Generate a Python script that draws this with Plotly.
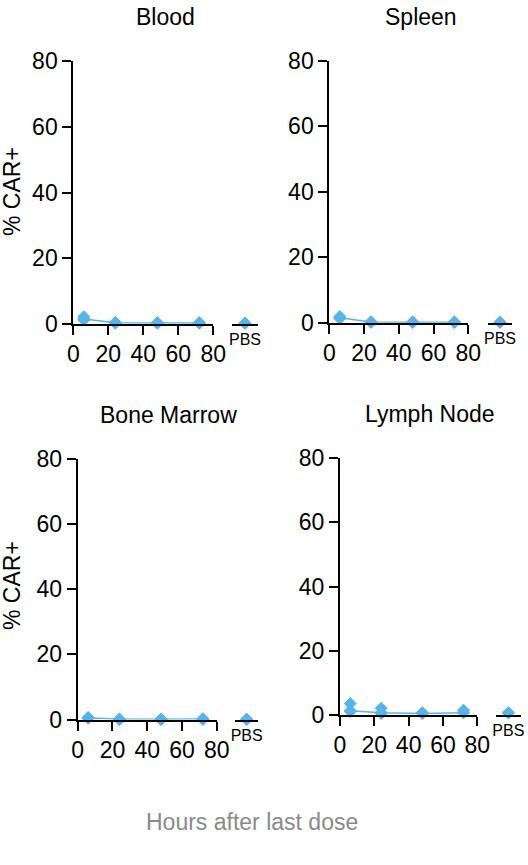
import plotly.graph_objects as go

W, H = 528, 865

# ---------------- data ----------------
times = [6, 24, 48, 72]
panel_names = ["Blood", "Spleen", "Bone Marrow", "Lymph Node"]
x_ticks = [0, 20, 40, 60, 80]
y_ticks = [0, 20, 40, 60, 80]
pbs_label = "PBS"

blood_reps = [[2.1, 1.4, 1.1], [0.4, 0.3, 0.2], [0.3, 0.2, 0.2], [0.3, 0.2, 0.2]]
blood_line = [1.4, 0.3, 0.2, 0.2]
blood_pbs = [0.1, 0.1]

spleen_reps = [[1.9, 1.3, 1.5], [0.2, 0.1, 0.2], [0.1, 0.1, 0.2], [0.1, 0.1, 0.2]]
spleen_line = [1.5, 0.2, 0.1, 0.1]
spleen_pbs = [0.1, 0.1]

marrow_reps = [[0.6, 0.4, 0.5], [0.1, 0.1, 0.1], [0.0, 0.05, 0.05], [0.2, 0.1, 0.1]]
marrow_line = [0.5, 0.1, 0.05, 0.15]
marrow_pbs = [0.1, 0.1]

lymph_reps = [[3.5, 1.2, 1.0], [2.0, 0.6, 0.4], [0.6, 0.5, 0.4], [1.4, 0.8, 0.6]]
lymph_line = [1.2, 0.6, 0.4, 0.6]
lymph_pbs = [0.6, 0.5]

reps = [blood_reps, spleen_reps, marrow_reps, lymph_reps]
lines = [blood_line, spleen_line, marrow_line, lymph_line]
pbs = [blood_pbs, spleen_pbs, marrow_pbs, lymph_pbs]

# ---------------- layout geometry (pixels) ----------------
geom = [
    dict(x0=73.3, x80=213.3, p0=232.0, p1=258.0, ytop=61.3, ybot=323.7),
    dict(x0=329.3, x80=468.3, p0=487.7, p1=512.3, ytop=60.7, ybot=322.7),
    dict(x0=77.7, x80=216.7, p0=235.0, p1=258.3, ytop=458.7, ybot=719.5),
    dict(x0=340.0, x80=477.3, p0=496.0, p1=520.7, ytop=458.3, ybot=714.7),
]

COLOR = "#55b4e8"
FONT = "Liberation Sans, Arial, Helvetica, sans-serif"
FS = 23


def fx(px):
    return px / W


def fy(py):
    return 1 - py / H


fig = go.Figure()
layout = dict(
    width=W, height=H, margin=dict(l=0, r=0, t=0, b=0, autoexpand=False),
    plot_bgcolor="white", paper_bgcolor="white",
    showlegend=False, font=dict(family=FONT, size=FS, color="black"),
)
annotations = []


def ax_name(k, letter="x"):
    return letter + ("" if k == 1 else str(k))


def ax_key(k, letter="xaxis"):
    return letter + ("" if k == 1 else str(k))


for i, g in enumerate(geom):
    xm = 3 * i + 1   # main x axis
    xe = 3 * i + 2   # end-bar overlay axis
    xp = 3 * i + 3   # PBS axis
    yi = i + 1
    ydom = [fy(g["ybot"]), fy(g["ytop"])]

    layout[ax_key(xm)] = dict(
        domain=[fx(g["x0"]), fx(g["x80"])], range=[0, 80], anchor=ax_name(yi, "y"),
        tickvals=x_ticks, ticks="outside", ticklen=9, tickwidth=2, tickcolor="black",
        showline=True, linewidth=2, linecolor="black", showgrid=False, zeroline=False,
        tickfont=dict(size=FS, family=FONT), fixedrange=True, automargin=False,
    )
    layout[ax_key(xe)] = dict(
        domain=[fx(g["x0"]), fx(g["x80"])], range=[0, 80], anchor=ax_name(yi, "y"),
        overlaying=ax_name(xm), tickvals=[80], ticks="inside", ticklen=6, tickwidth=2,
        tickcolor="black", showticklabels=False, showline=False, showgrid=False,
        zeroline=False, fixedrange=True, automargin=False,
    )
    layout[ax_key(xp)] = dict(
        domain=[fx(g["p0"]), fx(g["p1"])], range=[-1, 1], anchor=ax_name(yi, "y"),
        tickvals=[0], ticktext=[pbs_label], ticks="", showline=True, linewidth=2,
        linecolor="black", showgrid=False, zeroline=False,
        tickfont=dict(size=16, family=FONT), fixedrange=True, automargin=False,
    )
    layout[ax_key(yi, "yaxis")] = dict(
        domain=ydom, range=[0, 80], anchor=ax_name(xm),
        tickvals=y_ticks, ticks="outside", ticklen=9, tickwidth=2, tickcolor="black",
        showline=True, linewidth=2, linecolor="black", showgrid=False, zeroline=False,
        tickfont=dict(size=FS, family=FONT), fixedrange=True, automargin=False,
    )

    # replicate points
    xs, ys = [], []
    for t, vals in zip(times, reps[i]):
        for v in vals:
            xs.append(t)
            ys.append(v)
    fig.add_trace(go.Scatter(
        x=times, y=lines[i], mode="lines", line=dict(color=COLOR, width=1.5),
        xaxis=ax_name(xm), yaxis=ax_name(yi, "y"), cliponaxis=False, hoverinfo="skip"))
    fig.add_trace(go.Scatter(
        x=xs, y=ys, mode="markers", marker=dict(symbol="diamond", size=10, color=COLOR),
        xaxis=ax_name(xm), yaxis=ax_name(yi, "y"), cliponaxis=False))
    fig.add_trace(go.Scatter(
        x=[0] * len(pbs[i]), y=pbs[i], mode="markers",
        marker=dict(symbol="diamond", size=10, color=COLOR),
        xaxis=ax_name(xp), yaxis=ax_name(yi, "y"), cliponaxis=False))

    # panel title
    annotations.append(dict(
        text=panel_names[i], x=fx((g["x0"] + g["p1"]) / 2), y=fy(g["ytop"] - 44),
        xref="paper", yref="paper", showarrow=False, xanchor="center", yanchor="middle",
        font=dict(size=FS, family=FONT, color="black")))

# y axis titles
for ymid in [192, 586]:
    annotations.append(dict(
        text="% CAR+", x=fx(12), y=fy(ymid), xref="paper", yref="paper",
        showarrow=False, textangle=-90, xanchor="center", yanchor="middle",
        font=dict(size=FS, family=FONT, color="black")))

annotations.append(dict(
    text="Hours after last dose", x=fx(252), y=fy(822), xref="paper", yref="paper",
    showarrow=False, xanchor="center", yanchor="middle",
    font=dict(size=FS, family=FONT, color="#8a8a8a")))

layout["annotations"] = annotations
fig.update_layout(**layout)
fig.write_html("out.html")
